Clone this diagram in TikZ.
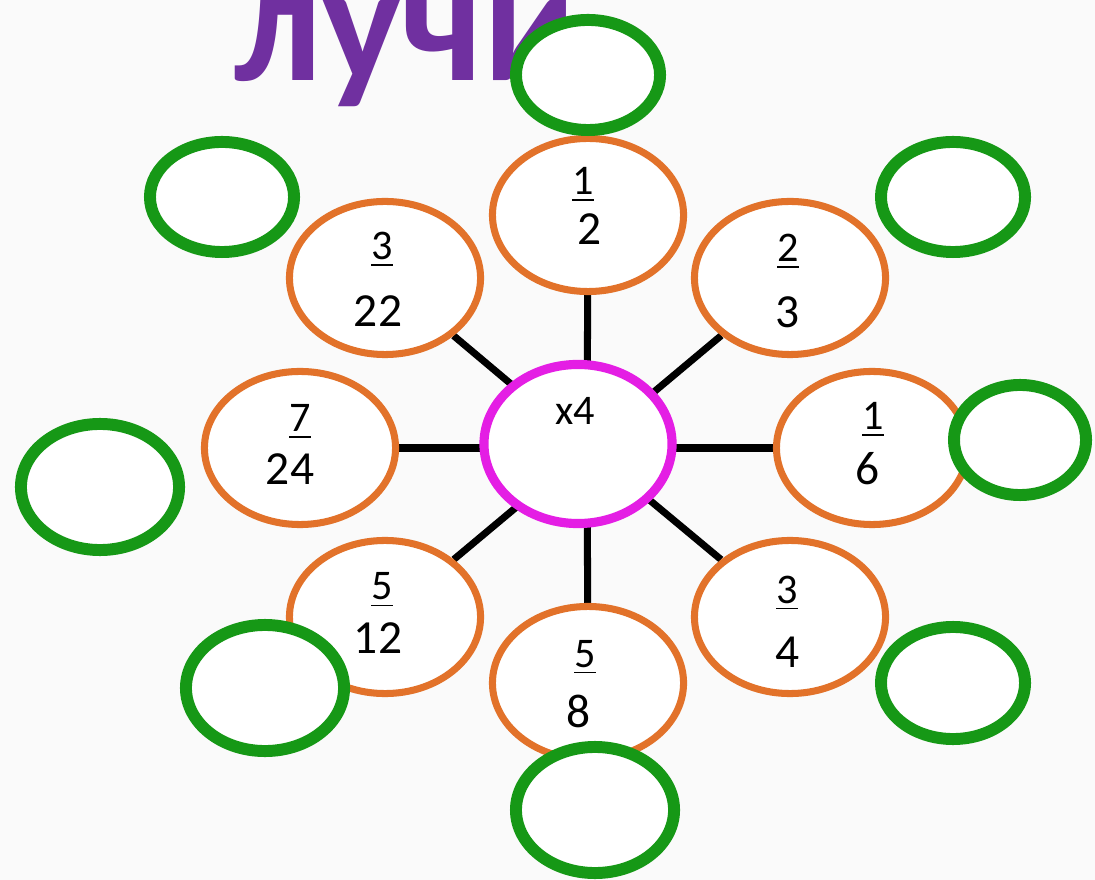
\documentclass[tikz,border=0pt]{standalone}
\usepackage{fontspec}
\setmainfont{Carlito}
\usetikzlibrary{shapes.geometric}

\definecolor{luchi}{RGB}{112,48,160}
\definecolor{ramka}{RGB}{226,114,42}
\definecolor{zelen}{RGB}{22,152,22}
\definecolor{rozov}{RGB}{228,30,228}
\definecolor{fon}{RGB}{250,250,250}

\pgfdeclarelayer{fonlayer}
\pgfdeclarelayer{luchlayer}
\pgfsetlayers{fonlayer,luchlayer,main}

\begin{document}
\begin{tikzpicture}[
            x=0.01cm,
            y=-0.01cm,
            drob/.style={
                ellipse,
                draw=ramka,
                fill=white,
                line width=2pt,
                minimum width=1.91cm,
                minimum height=1.53cm,
                inner sep=0pt
            },
            otvet/.style={
                ellipse,
                draw=zelen,
                fill=white,
                line width=3.4pt,
                minimum width=1.44cm,
                minimum height=1.1cm,
                inner sep=0pt
            },
            otvetB/.style={otvet, minimum width=1.58cm, minimum height=1.26cm},
            chisl/.style={anchor=base, inner sep=0pt, font=\fontsize{12}{14}\selectfont},
            znam/.style={anchor=base, inner sep=0pt, font=\fontsize{13.5}{16}\selectfont},
            luch/.style={line width=2pt, black}
        ]

        \useasboundingbox (0,0) rectangle (1095,880);
        \begin{pgfonlayer}{fonlayer}
            \fill[fon] (0,0) rectangle (1095,880);
        \end{pgfonlayer}

        % Заголовок
        \node[anchor=base west, inner sep=0pt, text=luchi,
              font=\fontsize{47.5}{52}\selectfont\bfseries] (title) at (234,81) {лучи};

        % Центр
        \coordinate (hub) at (587,448);
        \node[ellipse, draw=rozov, fill=white, line width=2.6pt,
              minimum width=1.88cm, minimum height=1.59cm, inner sep=0pt] (centr) at (578,444) {};
        \node[anchor=base, inner sep=0pt, font=\fontsize{12}{14}\selectfont] (umn) at (575,425) {x4};

        % Дроби
        \node[drob] (o1) at (588,215) {};
        \node[drob] (o2) at (790,278) {};
        \node[drob] (o3) at (872,448) {};
        \node[drob] (o4) at (790,617) {};
        \node[drob] (o5) at (588,683) {};
        \node[drob] (o6) at (385,617) {};
        \node[drob] (o7) at (300,448) {};
        \node[drob] (o8) at (385,278) {};

        \node[chisl] (ch1) at (583,195) {\underline{1}};
        \node[znam]  (zn1) at (590,245) {2};
        \node[chisl] (ch2) at (788,262) {\underline{2}};
        \node[znam]  (zn2) at (788,328) {3};
        \node[chisl] (ch3) at (873,430) {\underline{1}};
        \node[znam]  (zn3) at (868,485) {6};
        \node[chisl] (ch4) at (787,603) {\underline{3}};
        \node[znam]  (zn4) at (788,667) {4};
        \node[chisl] (ch5) at (585,667) {\underline{5}};
        \node[znam]  (zn5) at (579,727) {8};
        \node[chisl] (ch6) at (382,600) {\underline{5}};
        \node[znam]  (zn6) at (378,653) {12};
        \node[chisl] (ch7) at (300,432) {\underline{7}};
        \node[znam]  (zn7) at (290,485) {24};
        \node[chisl] (ch8) at (382,260) {\underline{3}};
        \node[znam]  (zn8) at (378,327) {22};

        % Лучи
        \begin{pgfonlayer}{luchlayer}
            \foreach \k in {o1,o2,o3,o4,o5,o6,o7,o8}
                \draw[luch] (hub) -- (\k);
        \end{pgfonlayer}

        % Ответы
        \node[otvet]  (g1) at (588,75) {};
        \node[otvet]  (g2) at (953,197) {};
        \node[otvet, minimum width=1.32cm, minimum height=1.1cm] (g3) at (1020,440) {};
        \node[otvet, minimum height=1.12cm] (g4) at (953,683) {};
        \node[otvetB] (g5) at (595,810) {};
        \node[otvetB] (g6) at (265,688) {};
        \node[otvetB] (g7) at (100,487) {};
        \node[otvet]  (g8) at (222,197) {};

        \end{tikzpicture}
\end{document}
